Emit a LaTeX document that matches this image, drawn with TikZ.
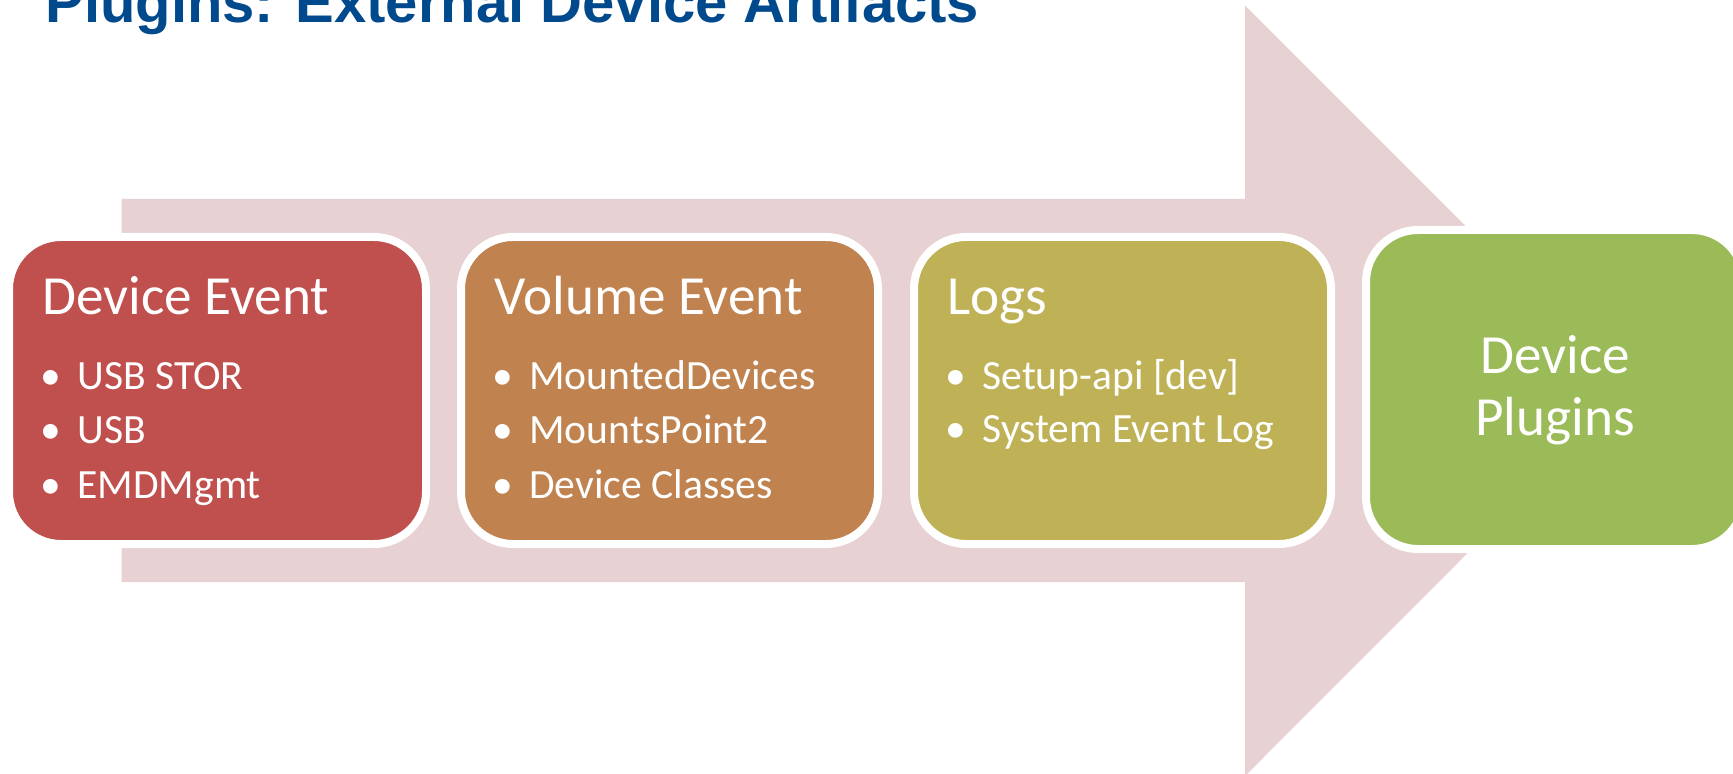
\documentclass[tikz,border=0pt]{standalone}
\usepackage{fontspec}
\setmainfont{Carlito}
\newfontfamily\titlefont{Liberation Sans}
\definecolor{arrowpink}{RGB}{231,209,210}
\definecolor{titleblue}{RGB}{0,73,140}
\definecolor{boxred}{RGB}{192,80,77}
\definecolor{boxbrown}{RGB}{192,131,80}
\definecolor{boxolive}{RGB}{191,178,86}
\definecolor{boxgreen}{RGB}{155,187,89}
\tikzset{
  card/.style={draw=white, line width=4pt, rounded corners=26pt, anchor=north west, inner sep=0pt, outer sep=0pt},
  smallcard/.style={card, minimum width=208.5pt, minimum height=153.5pt},
  head/.style={text=white, anchor=base west, inner sep=0pt, font=\fontsize{27.6}{31}\selectfont},
  item/.style={text=white, anchor=base west, inner sep=0pt, font=\fontsize{20.8}{25}\selectfont},
  dot/.style={text=white, anchor=base, inner sep=0pt, font=\fontsize{20.8}{25}\selectfont},
  bigtext/.style={text=white, anchor=base, inner sep=0pt, font=\fontsize{27.6}{31}\selectfont}
}
\begin{document}
\begin{tikzpicture}[x=0.5pt,y=-0.5pt]
\useasboundingbox (0,0) rectangle (1733,774);
\clip (0,0) rectangle (1733,774);
% big arrow
\fill[arrowpink] (121.5,199) -- (1245,199) -- (1245,5.5) -- (1630,390.5) -- (1245,776) -- (1245,582) -- (121.5,582) -- cycle;
% title
\node[anchor=base west, inner sep=0pt, text=titleblue, font=\titlefont\bfseries\fontsize{29}{33}\selectfont] (title) at (45,23) {Plugins: External Device Artifacts};
% boxes
\node[smallcard, fill=boxred] (b1) at (9,237) {};
\node[smallcard, fill=boxbrown] (b2) at (461,237) {};
\node[smallcard, fill=boxolive] (b3) at (914,237) {};
\node[card, fill=boxgreen, minimum width=189pt, minimum height=159.5pt] (b4) at (1366,230) {};
% box 1 text
\node[head] (h1) at (42,315) {Device Event};
\node[dot] (d11) at (51,390) {•};
\node[item] (i11) at (77,390) {USB STOR};
\node[dot] (d12) at (51,444) {•};
\node[item] (i12) at (77,444) {USB};
\node[dot] (d13) at (51,498) {•};
\node[item] (i13) at (77,498) {EMDMgmt};
% box 2 text
\node[head] (h2) at (494,315) {Volume Event};
\node[dot] (d21) at (503,390) {•};
\node[item] (i21) at (529,390) {MountedDevices};
\node[dot] (d22) at (503,444) {•};
\node[item] (i22) at (529,444) {MountsPoint2};
\node[dot] (d23) at (503,498) {•};
\node[item] (i23) at (529,498) {Device Classes};
% box 3 text
\node[head] (h3) at (947,315) {Logs};
\node[dot] (d31) at (956,390) {•};
\node[item] (i31) at (982,390) {Setup-api [dev]};
\node[dot] (d32) at (956,443) {•};
\node[item] (i32) at (982,443) {System Event Log};
% box 4 text
\node[bigtext] (p1) at (1555,374) {Device};
\node[bigtext] (p2) at (1555,436) {Plugins};
\end{tikzpicture}
\end{document}
